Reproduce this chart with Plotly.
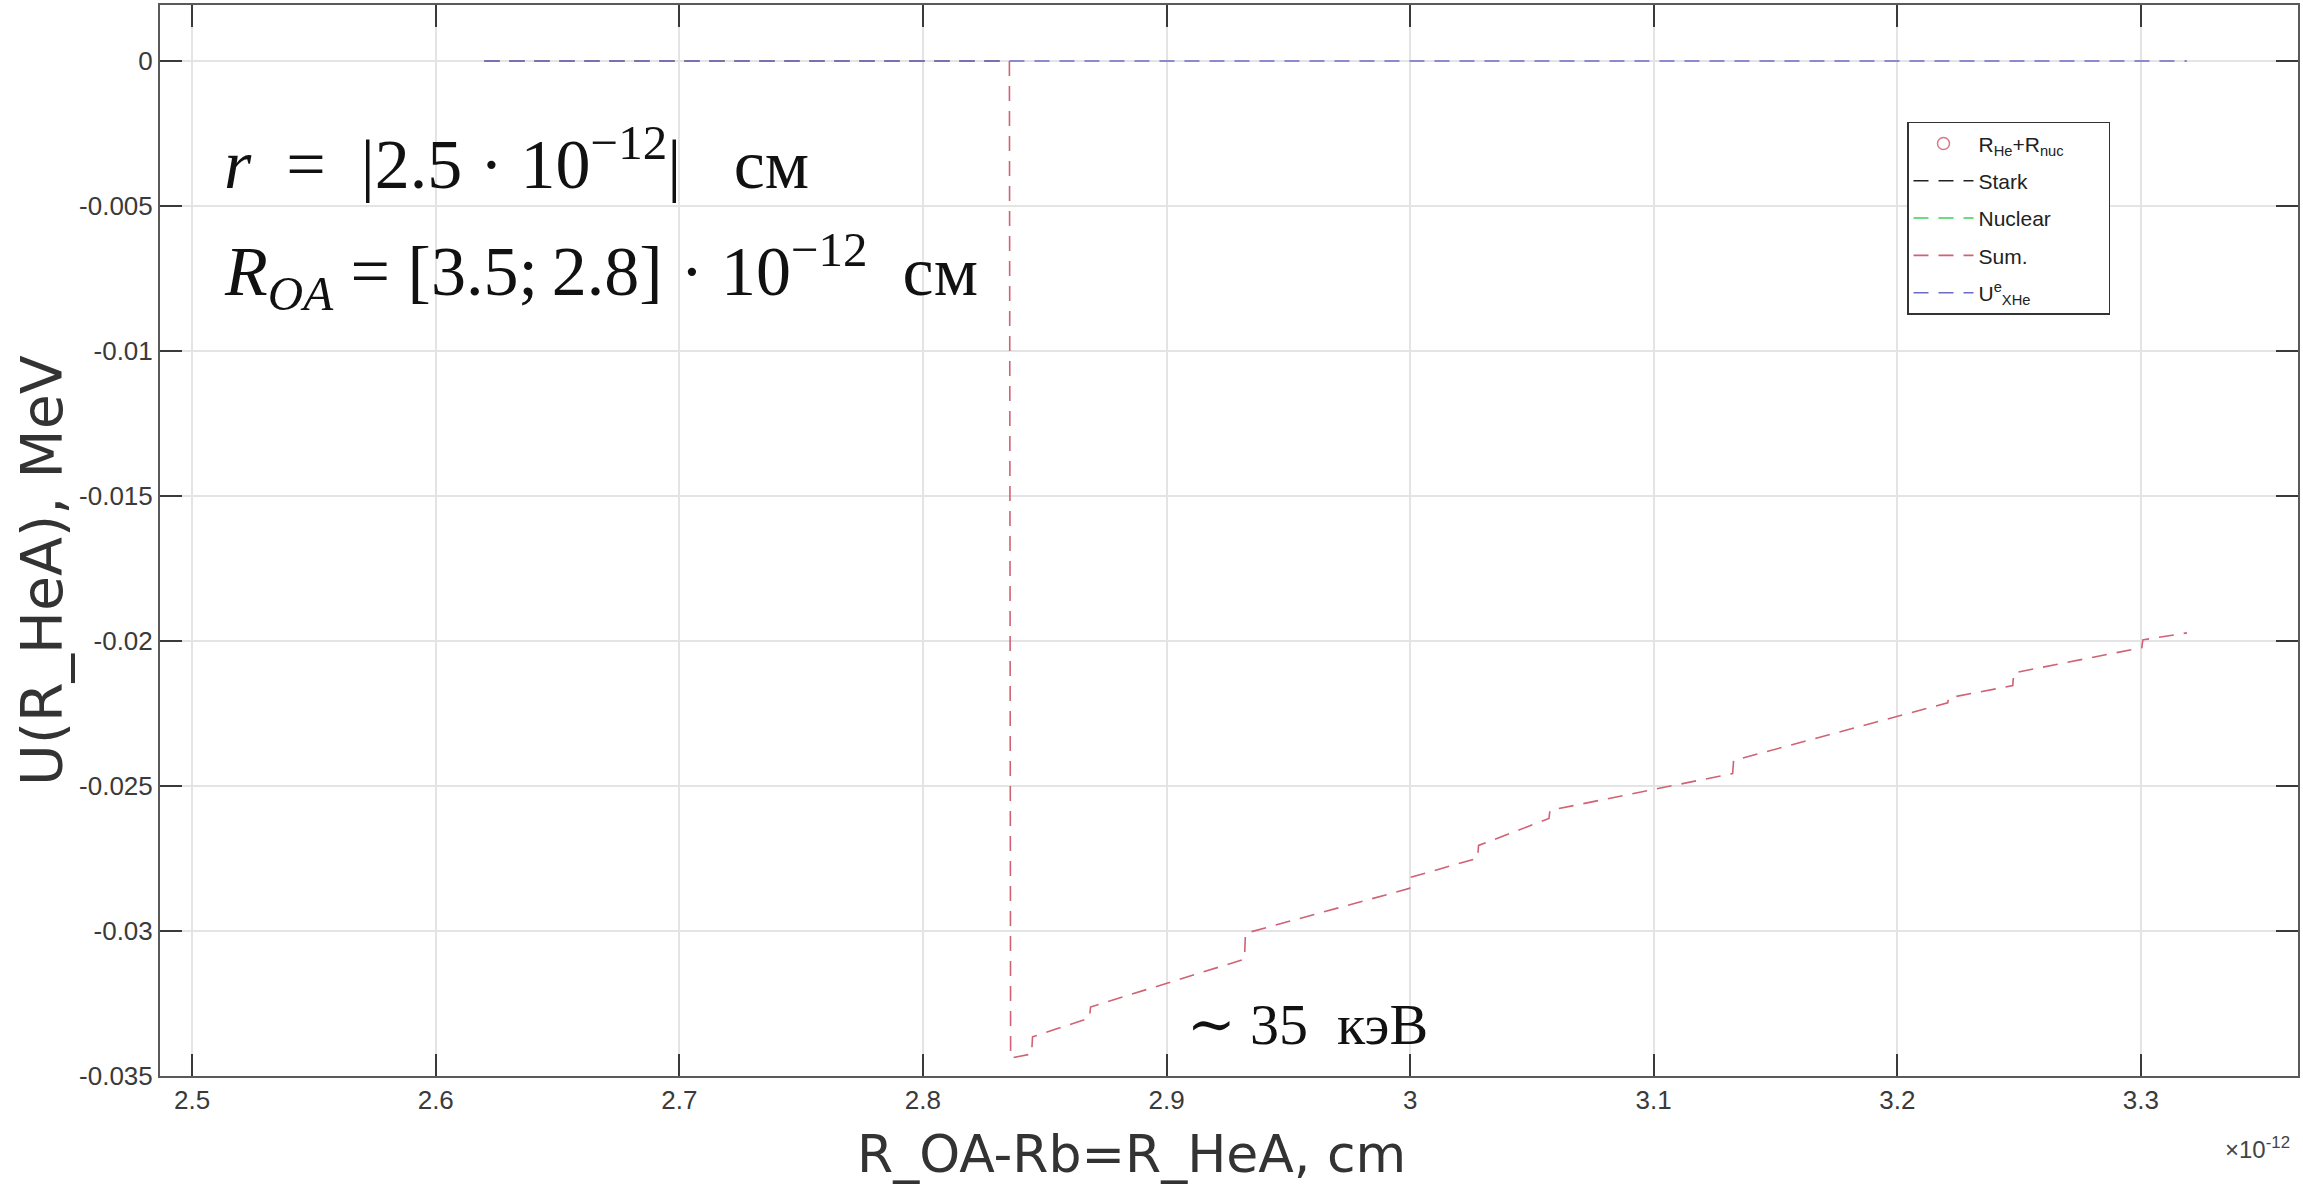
import plotly.graph_objects as go

# ---- data (x in units of 1e-12 cm, y in MeV) ----
x_sum = [2.620, 2.8355, 2.8360, 2.8446, 2.8450, 2.8684, 2.8688, 2.9320, 2.9324,
         2.9998, 3.0002, 3.0277, 3.0281, 3.0570, 3.0574, 3.1324, 3.1328,
         3.2207, 3.2211, 3.2474, 3.2478, 3.3004, 3.3008, 3.3189]
y_sum = [0.0, 0.0, -0.03438, -0.03424, -0.03365, -0.03300, -0.03262, -0.03097, -0.03008,
         -0.02853, -0.02815, -0.02749, -0.02705, -0.02612, -0.02584, -0.02457, -0.02412,
         -0.02213, -0.02196, -0.02154, -0.02110, -0.02023, -0.01996, -0.01972]

x_stark = [2.620, 2.8355]
y_stark = [0.0, 0.0]
x_nuclear = [2.620, 2.8355]
y_nuclear = [0.0, 0.0]
x_uxhe = [2.620, 3.3189]
y_uxhe = [0.0, 0.0]
x_rhe = [None]   # no visible points in the reference
y_rhe = [None]

x_tickvals = [2.5, 2.6, 2.7, 2.8, 2.9, 3.0, 3.1, 3.2, 3.3]
x_ticktext = ["2.5", "2.6", "2.7", "2.8", "2.9", "3", "3.1", "3.2", "3.3"]
y_tickvals = [-0.035, -0.03, -0.025, -0.02, -0.015, -0.01, -0.005, 0.0]
y_ticktext = ["-0.035", "-0.03", "-0.025", "-0.02", "-0.015", "-0.01", "-0.005", "0"]

W, H = 2303, 1188
L, R, T, B = 160, 5, 3, 112
x_range = [2.4868, 3.3645]
y_range = [-0.035, 0.00193]

dash = "15px,10px"
pad = "&nbsp;" * 9
fig = go.Figure()
fig.add_trace(go.Scatter(x=x_rhe, y=y_rhe, mode="markers", name="R<sub>He</sub>+R<sub>nuc</sub>",
                         legendgroup="g1",
                         marker=dict(symbol="circle-open", size=12, color="#d27a8c", line=dict(width=1.5))))
fig.add_trace(go.Scatter(x=x_stark, y=y_stark, mode="lines", name="Stark", legendgroup="g2",
                         line=dict(color="#222222", width=1.5, dash=dash)))
fig.add_trace(go.Scatter(x=x_nuclear, y=y_nuclear, mode="lines", name="Nuclear" + pad, legendgroup="g3",
                         line=dict(color="#3ccf5a", width=1.5, dash=dash)))
fig.add_trace(go.Scatter(x=x_sum, y=y_sum, mode="lines", name="Sum.", legendgroup="g4",
                         line=dict(color="#cf6274", width=1.6, dash=dash)))
fig.add_trace(go.Scatter(x=x_uxhe, y=y_uxhe, mode="lines", name="U<sup>e</sup><sub>XHe</sub>",
                         legendgroup="g5",
                         line=dict(color="#6c6cc8", width=1.5, dash=dash)))

axis_common = dict(showline=True, linecolor="#5a5a5a", linewidth=2, mirror="ticks",
                   ticks="inside", ticklen=22, tickwidth=1.5, tickcolor="#3a3a3a",
                   showgrid=True, gridcolor="#e4e4e4", gridwidth=1.5, zeroline=False,
                   tickfont=dict(family="Arial, Liberation Sans", size=26, color="#3a3a3a"))
fig.update_xaxes(range=x_range, tickvals=x_tickvals, ticktext=x_ticktext, **axis_common)
fig.update_yaxes(range=y_range, tickvals=y_tickvals, ticktext=y_ticktext, **axis_common)

def px2paper_x(px):
    return (px - L) / (W - L - R)

def px2paper_y(py):
    return (H - B - py) / (H - T - B)

serif = "Liberation Serif, DejaVu Serif, serif"
sp = "&nbsp;"
thin = "\u2009"
ann = []
ann.append(dict(x=2.5123, y=-0.00337, xref="x", yref="y", xanchor="left", yanchor="middle",
                text=f"<i>r</i>{sp}{sp}={sp}{sp}|2.5{sp}·{sp}10<sup>−12</sup>|{sp}{sp}{sp}см", showarrow=False,
                font=dict(family=serif, size=70, color="#111")))
ann.append(dict(x=2.5123, y=-0.00726, xref="x", yref="y", xanchor="left", yanchor="middle",
                text=f"<i>R</i><sub><i>OA</i></sub>{sp}={sp}[3.5;{thin}2.8]{sp}·{sp}10<sup>−12</sup>{sp}{sp}см",
                showarrow=False, font=dict(family=serif, size=70, color="#111")))
ann.append(dict(x=2.9074, y=-0.03324, xref="x", yref="y", xanchor="left", yanchor="middle",
                text=f"∼{sp}35{sp}{sp}кэВ", showarrow=False,
                font=dict(family=serif, size=58, color="#111")))
ann.append(dict(x=px2paper_x(1131), y=px2paper_y(1154), xref="paper", yref="paper",
                xanchor="center", yanchor="middle", text="R_OA-Rb=R_HeA, cm", showarrow=False,
                font=dict(family="DejaVu Sans, Arial", size=52, color="#333")))
ann.append(dict(x=px2paper_x(42), y=px2paper_y(570), xref="paper", yref="paper",
                xanchor="center", yanchor="middle", text="U(R_HeA), MeV", showarrow=False,
                textangle=-90, font=dict(family="DejaVu Sans, Arial", size=57, color="#333")))
ann.append(dict(x=px2paper_x(2257), y=px2paper_y(1148), xref="paper", yref="paper",
                xanchor="center", yanchor="middle", text="×10<sup>-12</sup>", showarrow=False,
                font=dict(family="Arial, Liberation Sans", size=24, color="#444")))

fig.update_layout(
    width=W, height=H, margin=dict(l=L, r=R, t=T, b=B),
    paper_bgcolor="white", plot_bgcolor="white",
    annotations=ann,
    legend=dict(x=px2paper_x(1907), y=px2paper_y(120), xanchor="left", yanchor="top",
                bgcolor="white", bordercolor="#333", borderwidth=1.5,
                font=dict(family="Arial, Liberation Sans", size=21, color="#222"),
                itemwidth=60, tracegroupgap=7),
    showlegend=True,
)

fig.write_html("out.html")
